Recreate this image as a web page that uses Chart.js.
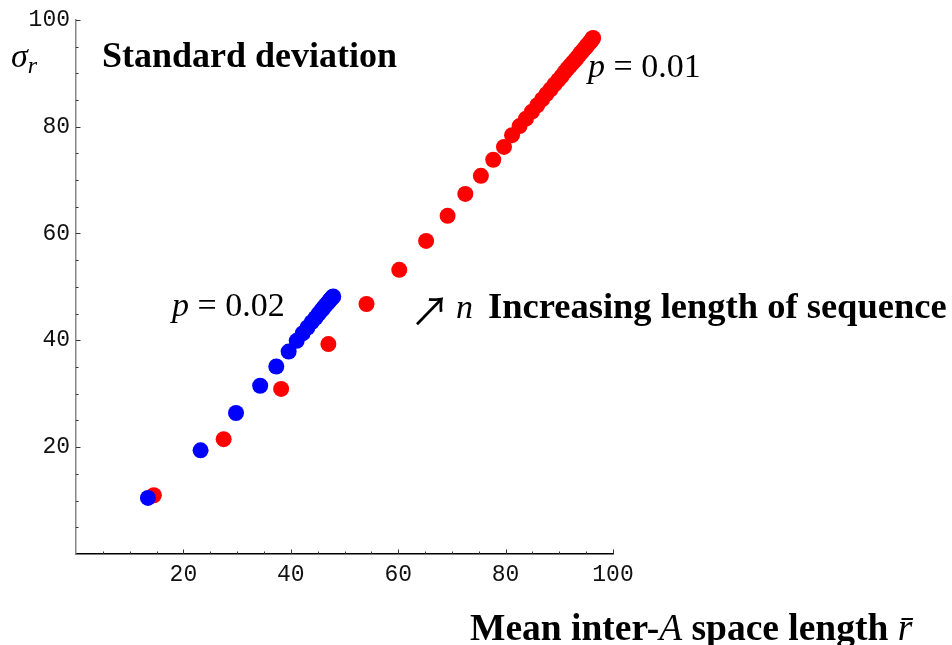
<!DOCTYPE html>
<html>
<head>
<meta charset="utf-8">
<script src="https://cdn.jsdelivr.net/npm/chart.js@4/dist/chart.umd.min.js"></script>
<style>
  html, body { margin: 0; padding: 0; background: #fff; }
  #wrap { width: 952px; height: 645px; position: relative; }
</style>
</head>
<body>
<div id="wrap"><canvas id="c" width="952" height="645"></canvas></div>
<script>
// ---- data ----
const redX = [14.5, 27.5, 38.2, 47.0, 54.1, 60.2, 65.2, 69.2, 72.5, 75.4, 77.7, 79.7,
  81.2, 82.6, 83.8, 84.9, 85.9, 86.8, 87.6, 88.4, 89.1, 89.8, 90.4, 91.0, 91.5, 92.0,
  92.5, 92.9, 93.3, 93.7, 94.0, 94.3, 94.6, 94.9, 95.1, 95.3, 95.5, 95.7, 95.9, 96.0,
  96.1, 96.2, 96.3];
const redY = [11.0, 21.5, 30.9, 39.3, 46.8, 53.2, 58.6, 63.3, 67.4, 70.8, 73.8, 76.2,
  78.4, 80.1, 81.5, 82.8, 84.0, 85.1, 86.1, 87.0, 87.9, 88.7, 89.4, 90.2, 90.8, 91.4,
  92.0, 92.4, 92.9, 93.4, 93.8, 94.1, 94.5, 94.8, 95.1, 95.3, 95.6, 95.8, 96.0, 96.2,
  96.3, 96.5, 96.6];
const blueX = [13.4, 23.2, 29.8, 34.3, 37.3, 39.6, 41.1, 42.2, 43.1, 43.9, 44.6, 45.2,
  45.7, 46.1, 46.5, 46.8, 47.1, 47.3, 47.5, 47.7, 47.8, 47.9];
const blueY = [10.5, 19.4, 26.4, 31.5, 35.1, 37.9, 39.9, 41.3, 42.4, 43.4, 44.2, 45.0,
  45.6, 46.1, 46.6, 46.9, 47.3, 47.5, 47.8, 48.0, 48.1, 48.2];
const xTickLabels = [20, 40, 60, 80, 100];
const yTickLabels = [20, 40, 60, 80, 100];

const toPts = (xs, ys) => xs.map((x, i) => ({ x: x, y: ys[i] }));

const SERIF = '"Liberation Serif", "Times New Roman", serif';
const MONO = '"Liberation Mono", "Courier New", monospace';

// draws a run of [text, font, dy] pieces starting at x, on baseline y
function drawRun(ctx, x, y, pieces) {
  ctx.textBaseline = 'alphabetic';
  ctx.textAlign = 'left';
  for (const p of pieces) {
    ctx.font = p[1];
    const dy = p[2] || 0;
    ctx.fillText(p[0], x, y + dy);
    x += ctx.measureText(p[0]).width;
  }
  return x;
}

const ticksAndText = {
  id: 'ticksAndText',
  afterDraw(chart) {
    const ctx = chart.ctx;
    const xs = chart.scales.x, ys = chart.scales.y;
    const x0 = xs.getPixelForValue(0), y0 = ys.getPixelForValue(0);
    ctx.save();
    ctx.strokeStyle = '#333';
    ctx.lineWidth = 1;
    for (let v = 5; v <= 100; v += 5) {
      const major = v % 20 === 0;
      const len = major ? 4.5 : 2.5;
      const px = Math.round(xs.getPixelForValue(v)) + 0.5;
      ctx.beginPath(); ctx.moveTo(px, y0); ctx.lineTo(px, y0 - len); ctx.stroke();
      const py = Math.round(ys.getPixelForValue(v)) + 0.5;
      ctx.beginPath(); ctx.moveTo(x0, py); ctx.lineTo(x0 + len, py); ctx.stroke();
    }
    ctx.fillStyle = '#000';
    const bold = 'bold 36px ' + SERIF;
    const it = 'italic 34px ' + SERIF;
    const rm = '34px ' + SERIF;
    // panel title
    drawRun(ctx, 102, 67, [['Standard deviation', bold]]);
    // y axis label sigma_r
    drawRun(ctx, 11, 67, [['σ', it], ['r', 'italic 24px ' + SERIF, 6]]);
    // p labels
    drawRun(ctx, 172, 316, [['p', it], [' = ', rm], ['0.02', rm]]);
    drawRun(ctx, 588, 77, [['p', it], [' = ', rm], ['0.01', rm]]);
    // arrow + increasing length
    drawRun(ctx, 410, 326, [['↗', '40px "Noto Sans CJK JP", "DejaVu Sans", sans-serif']]);
    drawRun(ctx, 456, 318, [['n', it]]);
    drawRun(ctx, 488, 318, [['Increasing length of sequence', 'bold 36.5px ' + SERIF]]);
    // x axis title
    const tb = 'bold 37.5px ' + SERIF, ti = 'italic 37.5px ' + SERIF;
    drawRun(ctx, 470, 640, [['Mean inter-', tb], ['A', ti], [' space length ', tb], ['r̄', ti]]);
    ctx.restore();
  }
};

new Chart(document.getElementById('c'), {
  type: 'scatter',
  data: {
    datasets: [
      { label: 'p = 0.02', data: toPts(blueX, blueY), backgroundColor: '#0000ff',
        borderWidth: 0, pointRadius: 8, pointHoverRadius: 8 },
      { label: 'p = 0.01', data: toPts(redX, redY), backgroundColor: '#ff0000',
        borderWidth: 0, pointRadius: 8, pointHoverRadius: 8 }
    ]
  },
  options: {
    responsive: false,
    animation: false,
    devicePixelRatio: 1,
    layout: { padding: { left: 0, top: 19, right: 339, bottom: 0 } },
    plugins: { legend: { display: false }, tooltip: { enabled: false } },
    scales: {
      x: {
        type: 'linear', min: 0, max: 100,
        afterFit: s => { s.height = 91; },
        afterBuildTicks: s => { s.ticks = xTickLabels.map(v => ({ value: v })); },
        ticks: { autoSkip: false, maxRotation: 0, padding: 7, color: '#111',
          font: { family: MONO, size: 23 } },
        grid: { display: false, drawTicks: false },
        border: { display: true, color: '#000', width: 1.5 }
      },
      y: {
        type: 'linear', min: 0, max: 100,
        afterFit: s => { s.width = 76; },
        afterBuildTicks: s => { s.ticks = yTickLabels.map(v => ({ value: v })); },
        ticks: { autoSkip: false, padding: 6, color: '#111',
          font: { family: MONO, size: 23 } },
        grid: { display: false, drawTicks: false },
        border: { display: true, color: '#888', width: 1.5 }
      }
    }
  },
  plugins: [ticksAndText]
});
</script>
</body>
</html>
